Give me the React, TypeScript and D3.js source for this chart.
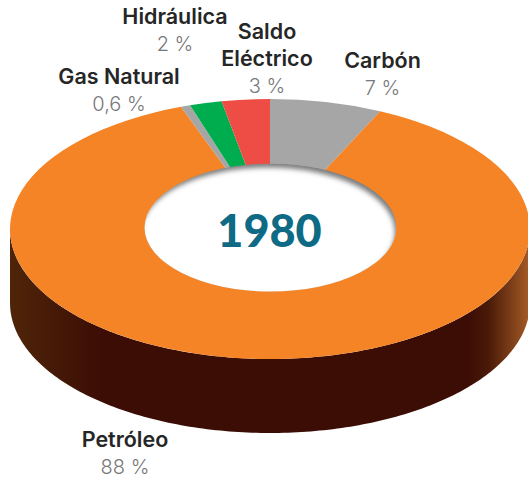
import React from 'react';
import * as d3 from 'd3';

const categories = ['Carbón', 'Petróleo', 'Gas Natural', 'Hidráulica', 'Saldo Eléctrico'];
const values = [7, 88, 0.6, 2, 3];
const sliceColors = ['#a6a6a6', '#f58426', '#a6a6a6', '#00ad4e', '#ee4d45'];
const valueLabels = ['7 %', '88 %', '0,6 %', '2 %', '3 %'];
const year = '1980';

// Flattened ring
const width = 528;
const height = 478;
const cx = 270;
const cy = 229;
const outerR = 260;
const squash = 0.5;
const depth = 74;
const holeCx = 270.5;
const holeCy = 227.5;
const holeRx = 126;
const holeRy = 64;

const font = "Inter, 'Open Sans', sans-serif";
const lineGap = 27;

// Label placement: one entry per category, name lines then value
const labelPos = [
  { x: 382.5, y: 68, lines: ['Carbón'] },
  { x: 125, y: 447, lines: ['Petróleo'] },
  { x: 119, y: 84, lines: ['Gas Natural'] },
  { x: 175, y: 24, lines: ['Hidráulica'] },
  { x: 267, y: 39, lines: ['Saldo', 'Eléctrico'] },
];

const App = () => {
  const pie = d3.pie<number>().sort(null).value(d => d);
  const arcs = pie(values);
  const arc = d3.arc<d3.PieArcDatum<number>>()
    .innerRadius(holeRx * 0.98)
    .outerRadius(outerR);

  // side wall: front half of the rim pushed down
  const angles = d3.range(90, 270.5, 1).map(d => (d * Math.PI) / 180);
  const wall = d3.area<number>()
    .x(a => cx + outerR * Math.sin(a))
    .y0(a => cy - outerR * squash * Math.cos(a))
    .y1(a => cy - outerR * squash * Math.cos(a) + depth)(angles);

  return (
    <svg width={width} height={height} style={{ position: 'absolute', left: 0, top: 0 }}>
      <defs>
        <linearGradient id="wall" gradientUnits="userSpaceOnUse" x1={10} x2={530} y1={0} y2={0}>
          <stop offset="0" stopColor="#4f2509" />
          <stop offset="0.18" stopColor="#3b0d05" />
          <stop offset="0.88" stopColor="#3b0d05" />
          <stop offset="0.92" stopColor="#4a1a08" />
          <stop offset="1" stopColor="#a65c26" />
        </linearGradient>
        <clipPath id="hole">
          <ellipse cx={holeCx} cy={holeCy} rx={holeRx} ry={holeRy} />
        </clipPath>
        <filter id="soft" x="-20%" y="-20%" width="140%" height="140%">
          <feGaussianBlur stdDeviation="2.5" />
        </filter>
      </defs>

      <path d={wall ?? ''} fill="url(#wall)" />

      <g transform={`translate(${cx},${cy}) scale(1,${squash})`}>
        {arcs.map((d, i) => (
          <path key={categories[i]} d={arc(d) ?? ''} fill={sliceColors[i]} />
        ))}
      </g>

      <g clipPath="url(#hole)">
        <ellipse cx={holeCx} cy={holeCy} rx={holeRx} ry={holeRy} fill="#7c7c7c" />
        <ellipse cx={holeCx - 2.5} cy={holeCy + 5} rx={holeRx + 1} ry={holeRy + 1} fill="#fff" filter="url(#soft)" />
      </g>

      <text x={holeCx - 1} y={246.5} textAnchor="middle" fontFamily="Lato, sans-serif" fontWeight={900} fontSize={45} fill="#0f6a85">
        {year}
      </text>

      {labelPos.map((p, i) => (
        <text key={categories[i]} textAnchor="middle" fontFamily={font}>
          {p.lines.map((line, j) => (
            <tspan key={line} x={p.x} y={p.y + j * lineGap} fontSize={21.5} fontWeight={600} fill="#262626">{line}</tspan>
          ))}
          <tspan x={p.x} y={p.y + p.lines.length * lineGap} fontSize={20} fontWeight={300} fill="#77787b">{valueLabels[i]}</tspan>
        </text>
      ))}
    </svg>
  );
};

export default App;
